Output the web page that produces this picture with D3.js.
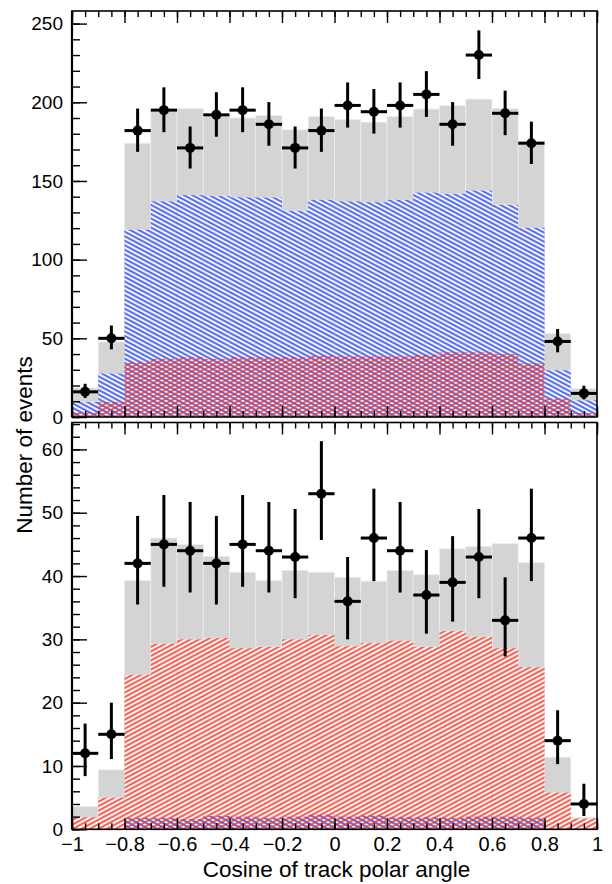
<!DOCTYPE html>
<html><head><meta charset="utf-8">
<script src="https://cdn.jsdelivr.net/npm/d3@7"></script>
<style>body{margin:0;background:#fff}</style>
</head><body><svg id="c" width="612" height="884"></svg>
<script>
// ---- data ----
const binCenters = [-0.95,-0.85,-0.75,-0.65,-0.55,-0.45,-0.35,-0.25,-0.15,-0.05,0.05,0.15,0.25,0.35,0.45,0.55,0.65,0.75,0.85,0.95];
const binHalfWidth = 0.05;

// top panel
const topTotal = [18.5,47.7,174,194,196,191,190,191.6,182.5,191,189,187.4,191,195.7,197.8,202,196,175,53,18];
const topBlue  = [9.5,27.6,119,137,141,140.5,139.6,139.5,131,138,137,136.5,138,142.6,141.8,143.9,134.8,120.3,29.7,10.6];
const topRed   = [3,9.5,35,37,38,37,38,38,38,39,38.5,38.5,38.5,39.5,41,41,40,34,11.7,2.5];
const topData  = [16,50,182,195,171,192,195,186,171,182,198,194,198,205,186,230,193,174,48,15];
const topErrHi = [5.1,8.1,14.0,14.5,13.6,14.4,14.5,14.1,13.6,14.0,14.6,14.4,14.6,14.8,14.1,15.7,14.4,13.7,7.9,4.9];
const topErrLo = [3.9,7.0,13.5,14.0,13.1,13.9,14.0,13.6,13.1,13.5,14.1,13.9,14.1,14.3,13.6,15.2,13.9,13.2,6.9,3.8];

// bottom panel
const botTotal = [3.6,9.4,39.3,46.0,45.0,43.1,40.6,39.3,40.9,40.6,39.8,39.2,40.9,40.2,44.3,44.7,45.1,42.1,11.4,1.9];
const botRed   = [1.9,5.0,24.4,29.3,30.0,30.2,28.6,28.8,30.0,30.7,28.9,29.4,29.8,28.8,31.3,30.4,28.6,25.6,5.8,1.7];
const botBlue  = [0,0,1.8,1.8,1.6,2.1,2.0,1.8,2.0,2.3,2.0,2.2,1.9,1.9,1.8,2.0,2.0,1.8,0,0];
const botData  = [12,15,42,45,44,42,45,44,43,53,36,46,44,37,39,43,33,46,14,4];
const botErrHi = [4.7,5.0,7.5,7.8,7.7,7.5,7.8,7.7,7.6,8.3,7.0,7.8,7.7,7.1,7.3,7.6,6.8,7.8,4.8,3.2];
const botErrLo = [3.6,3.9,6.5,6.7,6.6,6.5,6.7,6.6,6.5,7.3,6.0,6.8,6.6,6.1,6.2,6.5,5.7,6.8,3.7,1.9];

// axis ticks / labels
const xMajorTicks = [-1,-0.8,-0.6,-0.4,-0.2,0,0.2,0.4,0.6,0.8,1];
const topYMajor = [0,50,100,150,200,250];
const botYMajor = [0,10,20,30,40,50,60];
const xTitle = "Cosine of track polar angle";
const yTitle = "Number of events";

// ---- drawing ----
const FONT = "'Liberation Sans', Arial, Helvetica, sans-serif";
const svg = d3.select("#c");
const defs = svg.append("defs");
const GRAY = "#d4d4d4", BLUE = "#1a3cf5", RED = "#fb2a14";

function hatch(id, color, angle){
  const p = defs.append("pattern").attr("id", id)
    .attr("patternUnits","userSpaceOnUse")
    .attr("width", 12).attr("height", 4.0)
    .attr("patternTransform", `rotate(${angle})`);
  p.append("line").attr("x1",-1).attr("x2",13).attr("y1",2).attr("y2",2)
    .attr("stroke", color).attr("stroke-width", 1.45);
}
hatch("hBlue", BLUE, 28);
hatch("hRed", RED, -28);

const x = d3.scaleLinear().domain([-1,1]).range([72,597]);
const xMinor = d3.range(-20,21).map(i => i*0.05);
const fmtX = v => { const r = Math.round(v*10)/10; return (r<0?"\u2212":"") + Math.abs(r); };

function panel(cfg, idx){
  const y = d3.scaleLinear().domain([0, cfg.ymax]).range([cfg.bottom, cfg.top]);
  const cid = "clip"+idx;
  defs.append("clipPath").attr("id",cid).append("rect")
    .attr("x",72).attr("y",cfg.top).attr("width",597-72).attr("height",cfg.bottom-cfg.top);
  const g = svg.append("g").attr("clip-path",`url(#${cid})`);
  const bx = c => x(c-binHalfWidth), bw = c => x(c+binHalfWidth)-x(c-binHalfWidth);

  g.selectAll(".gray").data(binCenters).join("rect")
    .attr("x", bx).attr("width", bw)
    .attr("y", (c,i)=>y(cfg.total[i])).attr("height",(c,i)=>y(0)-y(cfg.total[i]))
    .attr("fill", GRAY).attr("stroke","#ededed").attr("stroke-width",0.8);
  g.selectAll(".base").data(binCenters).join("rect")
    .attr("x", bx).attr("width", bw)
    .attr("y", (c,i)=>y(Math.max(cfg.blue[i],cfg.red[i])))
    .attr("height",(c,i)=>y(0)-y(Math.max(cfg.blue[i],cfg.red[i])))
    .attr("fill", "#f4f4f4").attr("stroke","#e6e6e6").attr("stroke-width",0.8);
  g.selectAll(".blue").data(binCenters).join("rect")
    .attr("x", bx).attr("width", bw)
    .attr("y", (c,i)=>y(cfg.blue[i])).attr("height",(c,i)=>y(0)-y(cfg.blue[i]))
    .attr("fill", "url(#hBlue)");
  g.selectAll(".red").data(binCenters).join("rect")
    .attr("x", bx).attr("width", bw)
    .attr("y", (c,i)=>y(cfg.red[i])).attr("height",(c,i)=>y(0)-y(cfg.red[i]))
    .attr("fill", "url(#hRed)");

  // frame
  svg.append("rect").attr("x",72).attr("y",cfg.top).attr("width",597-72).attr("height",cfg.bottom-cfg.top)
    .attr("fill","none").attr("stroke","#000").attr("stroke-width",1.6);
  svg.append("line").attr("x1",72).attr("x2",72).attr("y1",cfg.top).attr("y2",cfg.bottom)
    .attr("stroke","#000").attr("stroke-width",2.2);

  // y ticks
  const yMinorVals = d3.range(0, cfg.ymax+1e-9, cfg.yMinorStep);
  const axStyle = s => { s.select(".domain").remove(); s.selectAll("line").attr("stroke","#000").attr("stroke-width",1.4); };
  svg.append("g").attr("transform","translate(72,0)")
    .call(d3.axisRight(y).tickValues(yMinorVals).tickSize(8).tickFormat("")).call(axStyle);
  svg.append("g").attr("transform","translate(72,0)")
    .call(d3.axisRight(y).tickValues(cfg.yMajor).tickSize(15).tickFormat("")).call(axStyle);
  const yl = svg.append("g").attr("transform","translate(72,0)")
    .call(d3.axisLeft(y).tickValues(cfg.yMajor).tickSize(0).tickPadding(9).tickFormat(d3.format("d")));
  yl.select(".domain").remove();
  yl.selectAll("text").attr("font-family",FONT).attr("font-size",19).attr("fill","#000");

  // x ticks top edge (pointing down) and bottom edge (pointing up)
  svg.append("g").attr("transform",`translate(0,${cfg.top})`)
    .call(d3.axisBottom(x).tickValues(xMinor).tickSize(6).tickFormat("")).call(axStyle);
  svg.append("g").attr("transform",`translate(0,${cfg.top})`)
    .call(d3.axisBottom(x).tickValues(xMajorTicks).tickSize(12).tickFormat("")).call(axStyle);
  svg.append("g").attr("transform",`translate(0,${cfg.bottom})`)
    .call(d3.axisTop(x).tickValues(xMinor).tickSize(6).tickFormat("")).call(axStyle);
  svg.append("g").attr("transform",`translate(0,${cfg.bottom})`)
    .call(d3.axisTop(x).tickValues(xMajorTicks).tickSize(11).tickFormat("")).call(axStyle);

  if (cfg.xLabels){
    const xl = svg.append("g").attr("transform",`translate(0,${cfg.bottom})`)
      .call(d3.axisBottom(x).tickValues(xMajorTicks).tickSize(0).tickPadding(8).tickFormat(fmtX));
    xl.select(".domain").remove();
    xl.selectAll("text").attr("font-family",FONT).attr("font-size",20).attr("fill","#000");
  }

  // data points
  const d = svg.append("g");
  binCenters.forEach((c,i)=>{
    const v = cfg.data[i];
    d.append("line").attr("x1",x(c-binHalfWidth)).attr("x2",x(c+binHalfWidth)).attr("y1",y(v)).attr("y2",y(v))
      .attr("stroke","#000").attr("stroke-width",3);
    d.append("line").attr("x1",x(c)).attr("x2",x(c)).attr("y1",y(v-cfg.lo[i])).attr("y2",y(v+cfg.hi[i]))
      .attr("stroke","#000").attr("stroke-width",3);
    d.append("circle").attr("cx",x(c)).attr("cy",y(v)).attr("r",5).attr("fill","#000");
  });
}

panel({top:11, bottom:417, ymax:258, yMinorStep:10, yMajor:topYMajor,
  total:topTotal, blue:topBlue, red:topRed, data:topData, hi:topErrHi, lo:topErrLo, xLabels:false}, 0);
panel({top:422.5, bottom:829.3, ymax:64.25, yMinorStep:2, yMajor:botYMajor,
  total:botTotal, blue:botBlue, red:botRed, data:botData, hi:botErrHi, lo:botErrLo, xLabels:true}, 1);

svg.append("text").attr("x",336.5).attr("y",877).attr("text-anchor","middle")
  .attr("font-family",FONT).attr("font-size",22.5).attr("fill","#000").text(xTitle);
svg.append("text").attr("transform","translate(32,445) rotate(-90)").attr("text-anchor","middle")
  .attr("font-family",FONT).attr("font-size",22.5).attr("fill","#000").text(yTitle);
</script>
</body></html>
